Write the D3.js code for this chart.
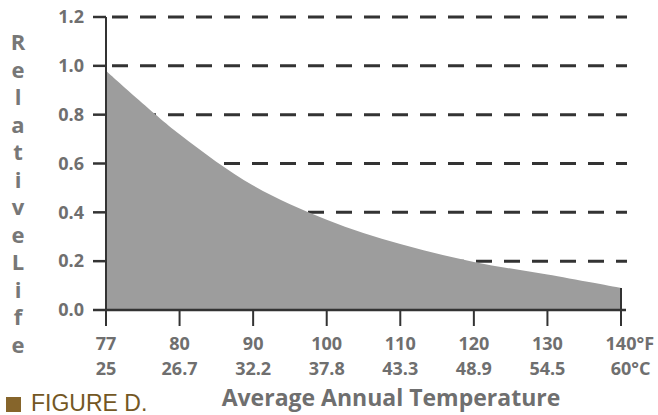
<!DOCTYPE html>
<html>
<head>
<meta charset="utf-8">
<script src="https://cdn.jsdelivr.net/npm/d3@7"></script>
<style>
  body { margin: 0; background: #fff; }
  svg { display: block; }
</style>
</head>
<body>
<svg id="chart" width="658" height="415"></svg>
<script>
// data
const tempF = ['77', '80', '90', '100', '110', '120', '130', '140'];
const tempC = ['25', '26.7', '32.2', '37.8', '43.3', '48.9', '54.5', '60'];
const relLife = [0.98, 0.72, 0.51, 0.37, 0.27, 0.197, 0.145, 0.09];
const yTicks = [0, 0.2, 0.4, 0.6, 0.8, 1.0, 1.2];

const svg = d3.select('#chart');
const labelColor = '#6f6f6f';
const lineColor = '#333';
const font = '"Open Sans", sans-serif';

// plot area
const plotLeft = 106, plotRight = 621, plotTop = 17, plotBottom = 310;

const x = d3.scalePoint().domain(tempF).range([plotLeft, plotRight]);
const y = d3.scaleLinear().domain([0, 1.2]).range([plotBottom, plotTop]);

// dashed grid lines (drawn first so the area hides them)
svg.append('g')
  .selectAll('line')
  .data(yTicks.filter(d => d > 0))
  .join('line')
  .attr('x1', plotLeft + 6)
  .attr('x2', plotRight + 6)
  .attr('y1', d => y(d))
  .attr('y2', d => y(d))
  .attr('stroke', lineColor)
  .attr('stroke-width', 3)
  .attr('stroke-dasharray', '16,12');

// the area
const area = d3.area()
  .x((d, i) => x(tempF[i]))
  .y0(y(0))
  .y1(d => y(d))
  .curve(d3.curveCatmullRom.alpha(0.5));

svg.append('path')
  .datum(relLife)
  .attr('d', area)
  .attr('fill', '#9d9d9d');

// right edge of the area
svg.append('line')
  .attr('x1', x('140')).attr('x2', x('140'))
  .attr('y1', y(relLife[relLife.length - 1])).attr('y2', plotBottom)
  .attr('stroke', lineColor).attr('stroke-width', 2);

// y axis
const yAxis = svg.append('g');
yAxis.append('line')
  .attr('x1', plotLeft).attr('x2', plotLeft)
  .attr('y1', plotTop).attr('y2', plotBottom + 14)
  .attr('stroke', lineColor).attr('stroke-width', 2);

yAxis.selectAll('.ytick')
  .data(yTicks)
  .join('line')
  .attr('class', 'ytick')
  .attr('x1', plotLeft - 13).attr('x2', plotLeft)
  .attr('y1', d => y(d)).attr('y2', d => y(d))
  .attr('stroke', lineColor).attr('stroke-width', 2.5);

yAxis.selectAll('.ylab')
  .data(yTicks)
  .join('text')
  .attr('class', 'ylab')
  .attr('x', plotLeft - 22)
  .attr('y', d => y(d))
  .attr('dy', '0.35em')
  .attr('text-anchor', 'end')
  .style('font-family', font)
  .style('font-weight', 700)
  .style('font-size', '18px')
  .style('fill', labelColor)
  .text(d => d.toFixed(1));

// x axis
const xAxis = svg.append('g');
xAxis.append('line')
  .attr('x1', plotLeft).attr('x2', plotRight + 5)
  .attr('y1', plotBottom).attr('y2', plotBottom)
  .attr('stroke', lineColor).attr('stroke-width', 2.5);

xAxis.selectAll('.xtick')
  .data(tempF)
  .join('line')
  .attr('class', 'xtick')
  .attr('x1', d => x(d)).attr('x2', d => x(d))
  .attr('y1', plotBottom).attr('y2', plotBottom + 16)
  .attr('stroke', lineColor).attr('stroke-width', 2);

// tick labels: number centred on the tick, unit trailing on the last one
function tickLabel(values, yPos, unit) {
  values.forEach((v, i) => {
    const t = xAxis.append('text')
      .attr('y', yPos)
      .style('font-family', font)
      .style('font-weight', 700)
      .style('font-size', '18px')
      .style('fill', labelColor)
      .text(v);
    const w = t.node().getComputedTextLength();
    t.attr('x', x(tempF[i]) - w / 2);
    if (i === values.length - 1) t.append('tspan').text(unit);
  });
}
tickLabel(tempF, 350, '°F');
tickLabel(tempC, 375, '°C');

// axis titles
svg.append('text')
  .attr('x', 391)
  .attr('y', 406)
  .attr('text-anchor', 'middle')
  .style('font-family', font)
  .style('font-weight', 700)
  .style('font-size', '23px')
  .style('fill', labelColor)
  .text('Average Annual Temperature');

const yTitle = 'RelativeLife'.split('');
svg.append('g')
  .selectAll('text')
  .data(yTitle)
  .join('text')
  .attr('x', 18)
  .attr('y', (d, i) => 50 + i * 27.5)
  .attr('text-anchor', 'middle')
  .style('font-family', font)
  .style('font-weight', 700)
  .style('font-size', '22px')
  .style('fill', '#777')
  .text(d => d);

// figure caption
svg.append('rect')
  .attr('x', 6).attr('y', 397)
  .attr('width', 15).attr('height', 15)
  .attr('fill', '#86652b');

svg.append('text')
  .attr('x', 31)
  .attr('y', 411)
  .style('font-family', '"Liberation Sans", Arial, sans-serif')
  .style('font-size', '23px')
  .style('fill', '#735724')
  .text('FIGURE D.');
</script>
</body>
</html>
